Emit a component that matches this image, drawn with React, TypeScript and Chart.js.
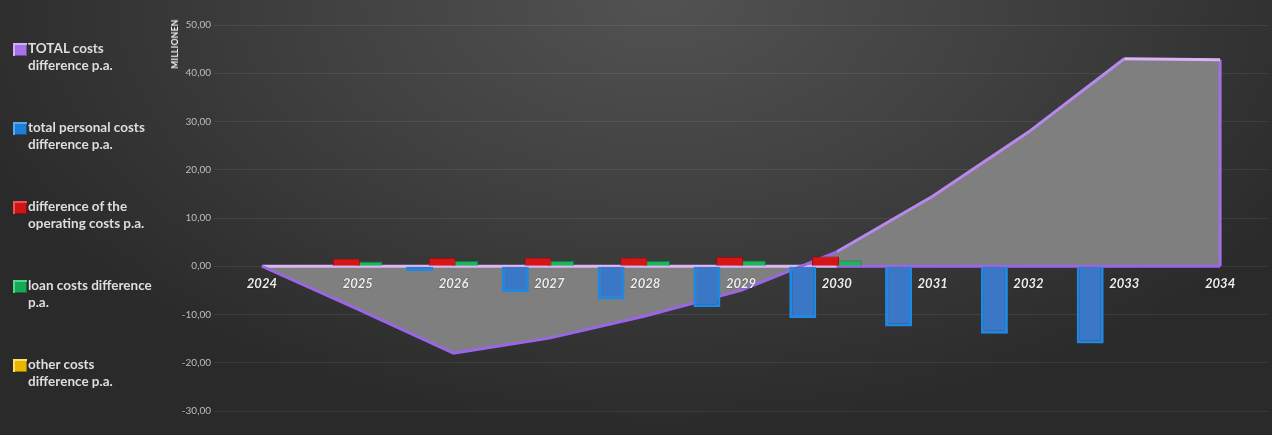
import React, { useEffect, useRef } from 'react';
import { Chart, registerables } from 'chart.js';

Chart.register(...registerables);

const years = ['2024', '2025', '2026', '2027', '2028', '2029', '2030', '2031', '2032', '2033', '2034'];
const totalCosts = [0, -8.9, -18.0, -14.9, -10.3, -5.0, 3.0, 14.5, 27.8, 43.0, 42.8];
const personalCosts = [null, null, -1.0, -5.4, -6.9, -8.5, -10.7, -12.5, -14.0, -16.0, null];
const operatingCosts = [null, 1.6, 1.7, 1.8, 1.8, 1.9, 2.0, null, null, null, null];
const loanCosts = [null, 1.0, 1.1, 1.1, 1.1, 1.2, 1.2, null, null, null, null];
const otherCosts = [null, null, null, null, null, null, null, null, null, null, null];
const zeroLine = [0, 0, 0, 0, 0, 0, 0, 0, 0, 0, 0];

const legendItems = [
  { lines: ['TOTAL costs', 'difference p.a.'], color: '#a673ea', edge: '#d2b0f8' },
  { lines: ['total personal costs', 'difference p.a.'], color: '#1c7fd8', edge: '#5aa8f0' },
  { lines: ['difference of the', 'operating costs p.a.'], color: '#cf1515', edge: '#f05050' },
  { lines: ['loan costs difference', 'p.a.'], color: '#15a855', edge: '#50d888' },
  { lines: ['other costs', 'difference p.a.'], color: '#e8b800', edge: '#ffe060' },
];

const fmt = (v: number) => v.toFixed(2).replace('.', ',');

export default function App() {
  const ref = useRef<HTMLCanvasElement>(null);

  useEffect(() => {
    const canvas = ref.current;
    if (!canvas) return;
    const chart = new Chart(canvas, {
      type: 'bar',
      data: {
        labels: years,
        datasets: [
          {
            type: 'bar',
            label: 'total personal costs difference p.a.',
            data: personalCosts as any,
            backgroundColor: '#3a77c7',
            borderColor: '#1e88e2',
            borderWidth: 3,
            order: 0,
          },
          {
            type: 'bar',
            label: 'difference of the operating costs p.a.',
            data: operatingCosts as any,
            backgroundColor: '#d61616',
            borderColor: '#a00b0b',
            borderWidth: 1,
            order: 0,
          },
          {
            type: 'bar',
            label: 'loan costs difference p.a.',
            data: loanCosts as any,
            backgroundColor: '#1cb65c',
            borderColor: '#0b8040',
            borderWidth: 1,
            order: 0,
          },
          {
            type: 'bar',
            label: 'other costs difference p.a.',
            data: otherCosts as any,
            backgroundColor: '#e8b800',
            borderWidth: 0,
            order: 0,
          },
          {
            type: 'line',
            label: 'TOTAL costs outline',
            data: totalCosts,
            fill: false,
            borderWidth: 3,
            borderColor: '#9b68e6',
            segment: {
              borderColor: (ctx: any) => {
                const a = ctx.p0.parsed.y;
                const b = ctx.p1.parsed.y;
                if (a >= 40 && b >= 40) return '#dcb2f7';
                if (a >= 0 && b >= 0) return '#b888ef';
                return '#9a66e6';
              },
            },
            pointRadius: 0,
            tension: 0,
            order: 5,
          },
          {
            type: 'line',
            label: 'baseline',
            data: zeroLine,
            fill: false,
            borderWidth: 3,
            borderColor: '#9a66e6',
            segment: {
              borderColor: (ctx: any) =>
                totalCosts[ctx.p0DataIndex] < 0 || totalCosts[ctx.p1DataIndex] < 0 ? '#dab6f4' : '#9a66e6',
            },
            pointRadius: 0,
            tension: 0,
            order: 5,
          },
          {
            type: 'line',
            label: 'edge',
            data: [
              { x: years[years.length - 1], y: 0 },
              { x: years[years.length - 1], y: totalCosts[totalCosts.length - 1] },
            ] as any,
            fill: false,
            borderWidth: 3,
            borderColor: '#a070e8',
            pointRadius: 0,
            order: 5,
          },
          {
            type: 'line',
            label: 'TOTAL costs difference p.a.',
            data: totalCosts,
            fill: 'origin',
            backgroundColor: '#7f7f7f',
            borderWidth: 0,
            borderColor: 'rgba(0,0,0,0)',
            pointRadius: 0,
            tension: 0,
            order: 6,
          },
        ] as any,
      },
      options: {
        animation: false,
        responsive: true,
        maintainAspectRatio: false,
        layout: { padding: { top: 25, bottom: 24, left: 0, right: 4 } },
        plugins: {
          legend: { display: false },
          tooltip: { enabled: false },
        },
        datasets: {
          bar: { categoryPercentage: 0.948, barPercentage: 1.19 },
        },
        scales: {
          x: {
            type: 'category',
            offset: true,
            position: { y: 0 } as any,
            grid: { display: false, drawTicks: false },
            border: { display: false },
            ticks: {
              z: 1,
              color: '#ececec',
              font: { family: 'Lato', size: 13, style: 'italic', weight: 'bold' },
              padding: 10,
              maxRotation: 0,
              autoSkip: false,
              textStrokeColor: 'rgba(0,0,0,0.25)',
              textStrokeWidth: 1,
            },
          },
          y: {
            min: -30,
            max: 50,
            afterFit: (scale: any) => {
              scale.width = 214;
            },
            grid: { color: 'rgba(255,255,255,0.08)', drawTicks: false, lineWidth: 1 },
            border: { display: false },
            ticks: {
              stepSize: 10,
              color: '#bdbdbd',
              font: { family: 'Lato', size: 10 },
              padding: 3,
              callback: (v: any) => fmt(Number(v)),
            },
          },
        },
      } as any,
    });
    return () => chart.destroy();
  }, []);

  return (
    <div
      style={{
        position: 'absolute',
        left: 0,
        top: 0,
        width: 1272,
        height: 435,
        overflow: 'hidden',
        background:
          'radial-gradient(ellipse 58% 100% at 52% 0%, #525252 0%, #414141 45%, #2a2a2a 100%)',
        fontFamily: 'Lato, sans-serif',
      }}
    >
      <div style={{ position: 'absolute', left: 0, top: 0, width: 1272, height: 435 }}>
        <canvas ref={ref} />
      </div>
      {legendItems.map((it, i) => (
        <div
          key={i}
          style={{
            position: 'absolute',
            left: 13,
            top: 39.5 + i * 79,
            display: 'flex',
            alignItems: 'flex-start',
          }}
        >
          <div
            style={{
              width: 14,
              height: 13,
              marginTop: 3,
              background: it.color,
              boxShadow: `inset 2px 2px 0 ${it.edge}, inset -1px -1px 0 rgba(0,0,0,0.35)`,
              boxSizing: 'border-box',
            }}
          />
          <div
            style={{
              marginLeft: 1,
              color: '#dedede',
              fontWeight: 700,
              fontSize: 13.5,
              lineHeight: '17px',
              whiteSpace: 'nowrap',
            }}
          >
            {it.lines.map((l, j) => (
              <div key={j}>{l}</div>
            ))}
          </div>
        </div>
      ))}
      <div
        style={{
          position: 'absolute',
          left: 175,
          top: 43.5,
          transform: 'translate(-50%, -50%) rotate(-90deg)',
          color: '#f2f2f2',
          fontWeight: 700,
          fontSize: 8.5,
          whiteSpace: 'nowrap',
          letterSpacing: 0.3,
        }}
      >
        MILLIONEN
      </div>
    </div>
  );
}
